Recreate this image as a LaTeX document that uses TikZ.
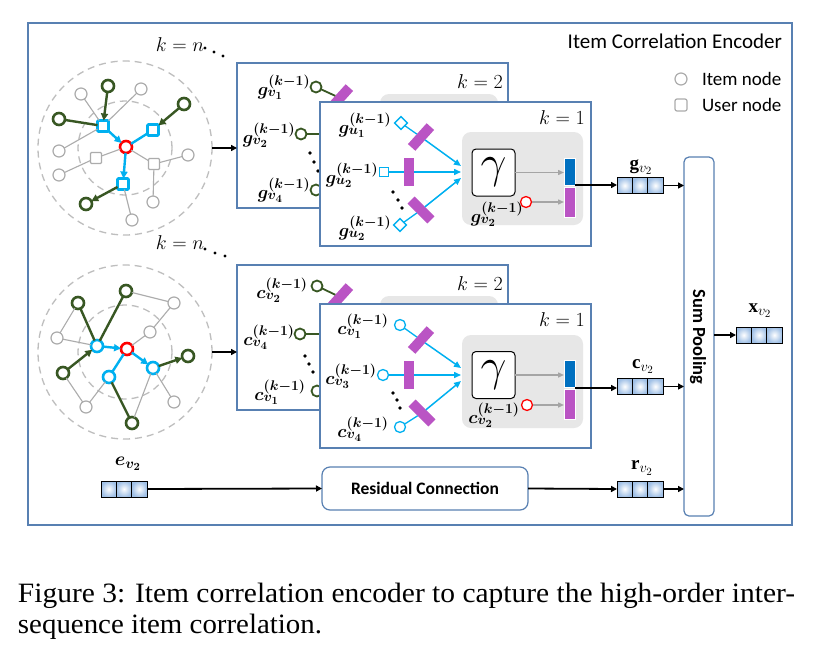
\RequirePackage{fix-cm}
\documentclass[tikz,border=0pt]{standalone}
\usepackage{fontspec}
\setmainfont{Liberation Serif}
\newfontfamily\carl{Carlito}
\usepackage{bm}
\usepackage{graphicx}
\DeclareMathSizes{18}{18}{14}{11}
\DeclareMathSizes{19}{19}{14.5}{11}
\usetikzlibrary{arrows.meta,shapes.geometric}
\definecolor{frameblue}{RGB}{88,128,178}
\definecolor{dgreen}{RGB}{56,87,35}
\definecolor{cyanb}{RGB}{0,176,240}
\definecolor{purp}{RGB}{186,84,196}
\definecolor{barblue}{RGB}{0,112,192}
\definecolor{lgray}{RGB}{231,231,231}
\definecolor{ngray}{RGB}{172,172,172}
\definecolor{dashgray}{RGB}{190,190,190}
\definecolor{cellblue}{RGB}{160,192,230}
\definecolor{arrgray}{RGB}{165,165,165}
\tikzset{
  every node/.style={inner sep=0pt, outer sep=0pt},
  dcirc/.style={circle, draw=dashgray, line width=1.3pt, dash pattern=on 7pt off 5pt},
  gcn/.style={circle, draw=ngray, line width=1.2pt, fill=white, minimum size=12pt},
  gsq/.style={rectangle, draw=ngray, line width=1.2pt, fill=white, minimum size=11pt, rounded corners=1pt},
  grn/.style={circle, draw=dgreen, line width=2.6pt, fill=white, minimum size=12pt},
  bsq/.style={rectangle, draw=cyanb, line width=2.6pt, fill=white, minimum size=11pt, rounded corners=1pt},
  bcn/.style={circle, draw=cyanb, line width=2.6pt, fill=white, minimum size=12pt},
  rcn/.style={circle, draw=red, line width=2.6pt, fill=white, minimum size=12pt},
  gedge/.style={draw=ngray, line width=1.1pt},
  gredge/.style={draw=dgreen, line width=2.4pt},
  bedge/.style={draw=cyanb, line width=2.4pt},
  gtip/.style={-{Triangle[length=7pt,width=7pt]}},
  kbox/.style={rectangle, draw=frameblue, line width=1.2pt, fill=white, minimum width=271pt, minimum height=144pt},
  grect/.style={rectangle, fill=lgray, rounded corners=9pt},
  gambox/.style={rectangle, draw=black, line width=1pt, fill=white, rounded corners=4pt, minimum width=43pt, minimum height=47pt},
  pbar/.style={rectangle, fill=purp, minimum width=10pt, minimum height=28pt},
  vbar/.style={rectangle, draw=white, line width=0.8pt},
  thin grn/.style={circle, draw=dgreen, line width=1.8pt, fill=white, minimum size=11pt},
  thin bsq/.style={rectangle, draw=cyanb, line width=1.3pt, fill=white, minimum size=9pt},
  thin bcn/.style={circle, draw=cyanb, line width=1.3pt, fill=white, minimum size=11pt},
  thin rcn/.style={circle, draw=red, line width=1.3pt, fill=white, minimum size=11pt},
  cline/.style={draw=cyanb, line width=1.3pt},
  carr/.style={draw=cyanb, line width=1.5pt, -{Triangle[length=7pt,width=6pt]}},
  garr/.style={draw=arrgray, line width=1.4pt, -{Triangle[length=6pt,width=5pt]}},
  blk/.style={draw=black, line width=1.8pt, -{Triangle[length=6pt,width=6pt]}},
  lab/.style={font=\fontsize{18}{20}\selectfont},
  klab/.style={font=\fontsize{20}{24}\selectfont},
  dot/.style={circle, fill=black, minimum size=3.6pt},
  sdot/.style={circle, fill=black, minimum size=3.4pt},
  vlab/.style={font=\fontsize{19}{21}\selectfont},
  vbox/.pic={
    \foreach \i in {0,1,2} {\shade[inner color=white, outer color=cellblue] ({-23+\i*15.333},-8) rectangle ({-23+(\i+1)*15.333},8);}
    \draw[line width=1pt] (-23,-8) rectangle (23,8);
    \draw[line width=1pt] (-7.667,-8) -- (-7.667,8) (7.667,-8) -- (7.667,8);
    \node[minimum width=46pt, minimum height=16pt] (-b) at (0,0) {};
  }
}
\begin{document}
\begin{tikzpicture}[x=1pt,y=-1pt]
\useasboundingbox (0,0) rectangle (830,648);
\fill[white] (0,0) rectangle (830,648);
% frame
\node[rectangle, draw=frameblue, line width=1.2pt, minimum width=764pt, minimum height=502pt] (frame) at (410,274) {};
\node[anchor=east, font=\fontsize{21}{24}\selectfont\carl] (title) at (782,41) {Item Correlation Encoder};
\node[gcn, minimum size=12pt] (lc) at (681,79) {};
\node[anchor=west, font=\fontsize{19}{22}\selectfont\carl] (lt1) at (702,79) {Item node};
\node[gsq, minimum size=12pt, rounded corners=2pt] (ls) at (681,105) {};
\node[anchor=west, font=\fontsize{19}{22}\selectfont\carl] (lt2) at (702,105) {User node};

% ===== top graph =====
\node[dcirc, minimum size=174pt] (go1) at (125,148) {};
\node[dcirc, minimum size=94pt] (gi1) at (125,148) {};
\node[gcn] (C1) at (81,94) {};
\node[gcn] (C2) at (141,89) {};
\node[gcn] (C3) at (59,151) {};
\node[gcn] (C4) at (59,175) {};
\node[gcn] (C5) at (188,155) {};
\node[gcn] (C6) at (153,202) {};
\node[gcn] (C7) at (132,220) {};
\node[gsq] (S1) at (96,158) {};
\node[gsq] (S2) at (154,164) {};
\node[grn] (G1) at (108,86) {};
\node[grn] (G2) at (59,119) {};
\node[grn] (G3) at (184,104) {};
\node[grn] (G4) at (86,204) {};
\node[bsq] (B1) at (103,126) {};
\node[bsq] (B2) at (153,130) {};
\node[bsq] (B3) at (123,184) {};
\node[rcn] (R1) at (126,147) {};
\draw[gedge] (C1) -- (B1) (C2) -- (B1) (B1) -- (C3) (R1) -- (S1) (S1) -- (C4)
  (R1) -- (S2) (S2) -- (C5) (S2) -- (C6) (B3) -- (C7);
\draw[gredge, gtip] (G1) -- (B1);
\draw[gredge] (G2) -- (B1);
\draw[gredge, gtip] (G3) -- (B2);
\draw[gredge, gtip] (B3) -- (G4);
\draw[bedge, gtip] (B1) -- (R1);
\draw[bedge] (B2) -- (R1);
\draw[bedge, gtip] (R1) -- (B3);
\node[klab] (kn1) at (180,45) {$k = n$};
\node[sdot] (kd1) at (205,48) {};
\node[sdot] (kd2) at (214,52) {};
\node[sdot] (kd3) at (223,56) {};

% ===== bottom graph =====
\node[dcirc, minimum size=174pt] (go2) at (125,352) {};
\node[dcirc, minimum size=94pt] (gi2) at (125,352) {};
\node[gcn] (E1) at (57,338) {};
\node[gcn] (E2) at (174,303) {};
\node[gcn] (E3) at (150,332) {};
\node[gcn] (E4) at (86,407) {};
\node[gcn] (E5) at (174,402) {};
\node[grn] (H1) at (78,303) {};
\node[grn] (H2) at (126,291) {};
\node[grn] (H3) at (63,373) {};
\node[grn] (H4) at (188,356) {};
\node[grn] (H5) at (132,423) {};
\node[bcn] (D1) at (97,346) {};
\node[bcn] (D2) at (153,368) {};
\node[bcn] (D3) at (109,377) {};
\node[rcn] (R2) at (127,349) {};
\draw[gedge] (H1) -- (E1) (E1) -- (D1) (H2) -- (E2) (E2) -- (E3) (E3) -- (R2)
  (H3) -- (E4) (E4) -- (D3) (D2) -- (E5) (D2) -- (H5);
\draw[gredge] (H1) -- (D1);
\draw[gredge] (H2) -- (D1);
\draw[gredge, gtip] (H3) -- (D1);
\draw[gredge, gtip] (D2) -- (H4);
\draw[gredge] (D3) -- (H5);
\draw[bedge, gtip] (D1) -- (R2);
\draw[bedge, gtip] (R2) -- (D2);
\draw[bedge] (R2) -- (D3);
\node[klab] (kn2) at (180,243) {$k = n$};
\node[sdot] (ke1) at (205,249) {};
\node[sdot] (ke2) at (215,253) {};
\node[sdot] (ke3) at (225,256) {};

% ===== top k=2 =====
\node[kbox, minimum height=145pt] (k2a) at (372.5,135.5) {};
\node[klab] (k2al) at (480,82) {$k = 2$};
\node[grect, minimum width=118pt, minimum height=106pt] (gr2a) at (439,147) {};
\node[lab] (la1) at (284,87) {$\bm{g}^{\bm{(k-1)}}_{\bm{v_1}}$};
\node[thin grn] (ca1) at (316,87) {};
\node[pbar, rotate=-42] (pa1) at (340,98) {};
\draw[dgreen, line width=1.8pt] (ca1) -- (pa1);
\node[lab] (la2) at (269,135) {$\bm{g}^{\bm{(k-1)}}_{\bm{v_2}}$};
\node[thin grn] (ca2) at (301,134) {};
\coordinate (ea2) at (330,134);
\draw[dgreen, line width=1.8pt] (ca2) -- (ea2);
\node[dot] (da1) at (310,153) {};
\node[dot] (da2) at (314,162) {};
\node[dot] (da3) at (318,171) {};
\node[lab] (la4) at (284,190) {$\bm{g}^{\bm{(k-1)}}_{\bm{v_4}}$};
\node[thin grn] (ca4) at (316,190) {};

% ===== top k=1 =====
\node[kbox] (k1a) at (455.5,174) {};
\node[klab] (k1al) at (562,118) {$k = 1$};
\node[grect, minimum width=121pt, minimum height=93pt] (gr1a) at (522.5,178.5) {};
\node[gambox] (gam1) at (493.5,172.5) {\fontsize{46}{48}\selectfont$\gamma$};
\node[vbar, fill=barblue, minimum width=11pt, minimum height=27pt] (bb1) at (569.5,171.5) {};
\node[vbar, fill=purp, minimum width=11pt, minimum height=30pt] (pp1) at (569.5,202) {};
\node[thin rcn] (rc1) at (526,202) {};
\node[lab] (lg1) at (497,214) {$\bm{g}^{\bm{(k-1)}}_{\bm{v_2}}$};
\draw[garr] (gam1.east) -- (gam1.east -| bb1.west);
\draw[garr] (rc1) -- (rc1 -| pp1.west);
\node[lab] (lu1) at (365,125) {$\bm{g}^{\bm{(k-1)}}_{\bm{u_1}}$};
\node[thin bsq, rotate=45] (su1) at (401,123) {};
\node[pbar, rotate=-42] (pu1) at (421,137) {};
\draw[cline] (su1) -- (pu1);
\draw[carr] (pu1) -- (461,166);
\node[lab] (lu2) at (352,175) {$\bm{g}^{\bm{(k-1)}}_{\bm{u_2}}$};
\node[thin bsq] (su2) at (384,172) {};
\node[pbar] (pu2) at (409,172) {};
\draw[cline] (su2) -- (pu2);
\draw[carr] (pu2) -- (461,172);
\node[dot] (du1) at (393,192) {};
\node[dot] (du2) at (398,200) {};
\node[dot] (du3) at (402,208) {};
\node[lab] (lu3) at (365,228) {$\bm{g}^{\bm{(k-1)}}_{\bm{u_2}}$};
\node[thin bsq, rotate=45] (su3) at (400,225) {};
\node[pbar, rotate=45] (pu3) at (421,210) {};
\draw[cline] (su3) -- (pu3);
\draw[carr] (pu3) -- (461,178);

% ===== bottom k=2 =====
\node[kbox, minimum height=145pt] (k2b) at (372.5,337.5) {};
\node[klab] (k2bl) at (480,284) {$k = 2$};
\node[grect, minimum width=118pt, minimum height=106pt] (gr2b) at (439,349) {};
\node[lab] (lb1) at (282,290) {$\bm{c}^{\bm{(k-1)}}_{\bm{v_2}}$};
\node[thin grn] (cb1) at (317,286) {};
\node[pbar, rotate=-42] (pb1) at (340,297) {};
\draw[dgreen, line width=1.8pt] (cb1) -- (pb1);
\node[lab] (lb2) at (269,337) {$\bm{c}^{\bm{(k-1)}}_{\bm{v_4}}$};
\node[thin grn] (cb2) at (300,334) {};
\coordinate (eb2) at (330,334);
\draw[dgreen, line width=1.8pt] (cb2) -- (eb2);
\node[dot] (db1) at (305,356) {};
\node[dot] (db2) at (309,364) {};
\node[dot] (db3) at (313,372) {};
\node[lab] (lb4) at (280,392) {$\bm{c}^{\bm{(k-1)}}_{\bm{v_1}}$};
\node[thin grn] (cb4) at (317,391) {};

% ===== bottom k=1 =====
\node[kbox] (k1b) at (455.5,376) {};
\node[klab] (k1bl) at (562,320) {$k = 1$};
\node[grect, minimum width=121pt, minimum height=93pt] (gr1b) at (522.5,381.5) {};
\node[gambox] (gam2) at (493.5,375) {\fontsize{46}{48}\selectfont$\gamma$};
\node[vbar, fill=barblue, minimum width=11pt, minimum height=27pt] (bb2) at (569.5,373.5) {};
\node[vbar, fill=purp, minimum width=11pt, minimum height=30pt] (pp2) at (569.5,404) {};
\node[thin rcn] (rc2) at (527,405) {};
\node[lab] (lg2) at (494,415) {$\bm{c}^{\bm{(k-1)}}_{\bm{v_2}}$};
\draw[garr] (gam2.east) -- (gam2.east -| bb2.west);
\draw[garr] (rc2) -- (rc2 -| pp2.west);
\node[lab] (lv1) at (363,326) {$\bm{c}^{\bm{(k-1)}}_{\bm{v_1}}$};
\node[thin bcn] (sv1) at (400,325) {};
\node[pbar, rotate=-42] (pv1) at (421,340) {};
\draw[cline] (sv1) -- (pv1);
\draw[carr] (pv1) -- (461,368);
\node[lab] (lv2) at (351,376) {$\bm{c}^{\bm{(k-1)}}_{\bm{v_3}}$};
\node[thin bcn] (sv2) at (383,375) {};
\node[pbar] (pv2) at (409,375) {};
\draw[cline] (sv2) -- (pv2);
\draw[carr] (pv2) -- (461,375);
\node[dot] (dv1) at (393,393) {};
\node[dot] (dv2) at (397,400) {};
\node[dot] (dv3) at (400,408) {};
\node[lab] (lv3) at (363,429) {$\bm{c}^{\bm{(k-1)}}_{\bm{v_4}}$};
\node[thin bcn] (sv3) at (400,427) {};
\node[pbar, rotate=45] (pv3) at (422,413) {};
\draw[cline] (sv3) -- (pv3);
\draw[carr] (pv3) -- (461,381);

% graph -> boxes
\draw[blk] (go1.east) -- (go1.east -| k2a.west);
\draw[blk] (go2.east) -- (go2.east -| k2b.west);

% ===== right side =====
\node[rectangle, draw=frameblue, line width=1.2pt, rounded corners=5pt, minimum width=30pt, minimum height=359pt] (sp) at (699,336.5) {};
\node[rotate=-90, font=\fontsize{18.5}{21}\selectfont\carl\bfseries] (spt) at (698,337) {Sum Pooling};
\pic (gv) at (640,185.5) {vbox};
\pic (cv) at (640,386.5) {vbox};
\pic (rv) at (640,489) {vbox};
\pic (xv) at (759,335) {vbox};
\node[vlab] (gvl) at (641,167) {$\mathbf{g}_{v_2}$};
\node[vlab] (cvl) at (643,367) {$\mathbf{c}_{v_2}$};
\node[vlab] (rvl) at (642,468) {$\mathbf{r}_{v_2}$};
\node[vlab] (xvl) at (760,311) {$\mathbf{x}_{v_2}$};
\coordinate (o1) at (575,185);
\coordinate (o2) at (575,388);
\draw[blk] (o1) -- (o1 -| gv-b.west);
\draw[blk] (o2) -- (o2 -| cv-b.west);
\draw[blk] (gv-b.east) -- (gv-b.east -| sp.west);
\draw[blk] (cv-b.east) -- (cv-b.east -| sp.west);
\draw[blk] (rv-b.east) -- (rv-b.east -| sp.west);
\draw[blk] (sp.east |- xv-b.west) -- (xv-b.west);

% residual
\pic (ev) at (124,489) {vbox};
\node[vlab] (evl) at (128,464) {$\bm{e}_{\bm{v_2}}$};
\node[rectangle, draw=frameblue, line width=1.2pt, rounded corners=8pt, minimum width=206pt, minimum height=43pt, font=\fontsize{17.5}{20}\selectfont\carl\bfseries] (res) at (425,488.5) {Residual Connection};
\draw[blk] (ev-b.east) -- (res.west);
\draw[blk] (res.east) -- (rv-b.west);

% caption
\node[anchor=base west, font=\fontsize{28}{32}\selectfont] (cap1) at (18,602) {\resizebox{777pt}{\height}{Figure 3: Item correlation encoder to capture the high-order inter-}};
\node[anchor=base west, font=\fontsize{28}{32}\selectfont] (cap2) at (18,633) {\resizebox{304pt}{\height}{sequence item correlation.}};
\end{tikzpicture}
\end{document}
